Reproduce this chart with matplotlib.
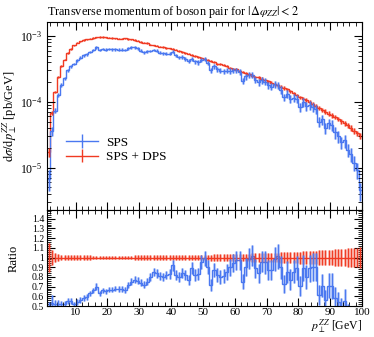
import numpy as np
import matplotlib
matplotlib.use("Agg")
import matplotlib.pyplot as plt
from matplotlib.ticker import MultipleLocator, FixedLocator, LogLocator, NullFormatter, FixedFormatter

plt.rcParams['font.family'] = ['Liberation Serif', 'DejaVu Serif']
plt.rcParams['mathtext.fontset'] = 'stix'

# bin edges: 1 GeV bins from 1 to 100
bin_lo = list(range(1, 100))

sps_dps = [1.70e-5, 6.76e-5, 1.41e-4, 2.40e-4, 3.47e-4, 4.37e-4, 5.50e-4, 6.31e-4, 7.24e-4, 7.94e-4,
           8.32e-4, 8.71e-4, 8.91e-4, 9.12e-4, 9.33e-4, 9.55e-4, 9.66e-4, 9.66e-4, 9.55e-4, 9.44e-4,
           9.33e-4, 9.23e-4, 9.12e-4, 9.12e-4, 9.15e-4, 9.0e-4, 8.9e-4, 8.7e-4, 8.5e-4, 8.1e-4,
           7.9e-4, 7.8e-4, 7.4e-4, 7.2e-4, 7.1e-4, 6.9e-4, 6.8e-4, 6.6e-4, 6.5e-4, 6.3e-4,
           6.2e-4, 5.9e-4, 5.75e-4, 5.5e-4, 5.4e-4, 5.1e-4, 5.0e-4, 4.8e-4, 4.6e-4, 4.5e-4,
           4.3e-4, 4.2e-4, 4.0e-4, 3.8e-4, 3.7e-4, 3.6e-4, 3.5e-4, 3.3e-4, 3.2e-4, 3.1e-4,
           2.95e-4, 2.8e-4, 2.7e-4, 2.6e-4, 2.5e-4, 2.4e-4, 2.35e-4, 2.24e-4, 2.14e-4, 2.04e-4,
           1.95e-4, 1.86e-4, 1.78e-4, 1.70e-4, 1.62e-4, 1.55e-4, 1.45e-4, 1.35e-4, 1.26e-4, 1.17e-4,
           1.12e-4, 1.07e-4, 1.00e-4, 9.3e-5, 8.7e-5, 8.1e-5, 7.6e-5, 7.1e-5, 6.6e-5, 6.2e-5,
           5.9e-5, 5.5e-5, 5.1e-5, 4.7e-5, 4.4e-5, 4.0e-5, 3.6e-5, 3.3e-5, 3.0e-5]

sps = [6.8e-6, 3.58e-5, 7.33e-5, 1.25e-4, 1.80e-4, 2.27e-4, 3.03e-4, 3.47e-4, 3.76e-4, 4.29e-4,
       4.66e-4, 5.05e-4, 5.26e-4, 5.75e-4, 6.16e-4, 6.69e-4, 6.09e-4, 6.38e-4, 6.21e-4, 6.32e-4,
       6.25e-4, 6.28e-4, 6.20e-4, 6.20e-4, 6.11e-4, 6.48e-4, 6.68e-4, 6.70e-4, 6.46e-4, 5.99e-4,
       5.69e-4, 5.85e-4, 5.92e-4, 6.12e-4, 5.96e-4, 5.59e-4, 5.44e-4, 5.41e-4, 5.40e-4, 5.80e-4,
       5.08e-4, 4.72e-4, 4.83e-4, 4.51e-4, 4.16e-4, 4.54e-4, 4.10e-4, 3.98e-4, 4.37e-4, 4.46e-4,
       3.87e-4, 3.02e-4, 3.48e-4, 3.12e-4, 2.96e-4, 2.92e-4, 2.98e-4, 2.97e-4, 3.01e-4, 3.01e-4,
       2.86e-4, 2.10e-4, 2.43e-4, 2.57e-4, 2.55e-4, 2.14e-4, 1.97e-4, 2.14e-4, 2.03e-4, 1.77e-4,
       1.70e-4, 1.84e-4, 1.80e-4, 1.53e-4, 1.18e-4, 1.32e-4, 1.12e-4, 1.15e-4, 1.12e-4, 8.3e-5,
       9.97e-5, 8.56e-5, 8.9e-5, 8.37e-5, 7.83e-5, 4.94e-5, 5.40e-5, 3.98e-5, 4.69e-5, 4.40e-5,
       3.42e-5, 2.97e-5, 2.45e-5, 2.59e-5, 1.85e-5, 1.60e-5, 1.19e-5, 9.2e-6, 4.5e-6]

# relative uncertainties
sps_dps_relerr = [0.15, 0.08, 0.05, 0.035, 0.03, 0.028, 0.026, 0.025, 0.024, 0.023,
                  0.022, 0.022, 0.021, 0.021, 0.02, 0.02, 0.02, 0.02, 0.02, 0.02,
                  0.02, 0.02, 0.02, 0.02, 0.02, 0.02, 0.02, 0.021, 0.021, 0.021,
                  0.021, 0.022, 0.022, 0.022, 0.023, 0.023, 0.023, 0.024, 0.024, 0.025,
                  0.025, 0.025, 0.026, 0.026, 0.027, 0.027, 0.028, 0.028, 0.029, 0.03,
                  0.03, 0.031, 0.032, 0.032, 0.033, 0.034, 0.035, 0.035, 0.036, 0.037,
                  0.038, 0.039, 0.04, 0.041, 0.042, 0.043, 0.044, 0.045, 0.046, 0.047,
                  0.048, 0.05, 0.051, 0.052, 0.054, 0.055, 0.057, 0.058, 0.06, 0.062,
                  0.063, 0.065, 0.067, 0.069, 0.071, 0.073, 0.075, 0.077, 0.079, 0.081,
                  0.083, 0.086, 0.088, 0.09, 0.093, 0.095, 0.098, 0.1, 0.105]

sps_relerr = [0.35, 0.15, 0.09, 0.07, 0.06, 0.06, 0.055, 0.055, 0.05, 0.05,
              0.05, 0.05, 0.05, 0.045, 0.045, 0.045, 0.045, 0.045, 0.045, 0.045,
              0.045, 0.045, 0.045, 0.045, 0.045, 0.045, 0.045, 0.045, 0.05, 0.05,
              0.05, 0.05, 0.05, 0.05, 0.055, 0.055, 0.055, 0.055, 0.06, 0.06,
              0.06, 0.065, 0.065, 0.065, 0.07, 0.07, 0.07, 0.075, 0.075, 0.08,
              0.08, 0.085, 0.085, 0.09, 0.09, 0.09, 0.095, 0.095, 0.1, 0.1,
              0.1, 0.105, 0.105, 0.11, 0.11, 0.11, 0.115, 0.115, 0.12, 0.12,
              0.12, 0.125, 0.125, 0.13, 0.13, 0.135, 0.135, 0.14, 0.14, 0.145,
              0.15, 0.15, 0.155, 0.16, 0.16, 0.17, 0.17, 0.18, 0.18, 0.19,
              0.2, 0.2, 0.21, 0.22, 0.23, 0.24, 0.25, 0.27, 0.3]

labels = ["SPS", "SPS + DPS"]
colors = ["#4a78f0", "#f03a22"]

edges = np.array(bin_lo + [bin_lo[-1] + 1], dtype=float)
centers = 0.5 * (edges[:-1] + edges[1:])
sps = np.array(sps)
sps_dps = np.array(sps_dps)
sps_err = sps * np.array(sps_relerr)
sps_dps_err = sps_dps * np.array(sps_dps_relerr)

fig = plt.figure(figsize=(3.74, 3.37), dpi=100)
ax = fig.add_axes([47/374, 1-210/337, 315/374, 188/337])
axr = fig.add_axes([47/374, 1-306/337, 315/374, 96/337], sharex=ax)

def draw(a, vals, errs, color):
    a.stairs(vals, edges, color=color, lw=1.0, baseline=None)
    a.errorbar(centers, vals, yerr=errs, fmt='none', ecolor=color, elinewidth=2.2, alpha=0.4)
    a.errorbar(centers, vals, yerr=errs, fmt='none', ecolor=color, elinewidth=0.7)

draw(ax, sps_dps, sps_dps_err, colors[1])
draw(ax, sps, sps_err, colors[0])
h1 = ax.errorbar([np.nan], [np.nan], yerr=[0.1], color=colors[0], lw=1.0, elinewidth=1.0)
h2 = ax.errorbar([np.nan], [np.nan], yerr=[0.1], color=colors[1], lw=1.0, elinewidth=1.0)

ax.set_yscale('log')
ax.set_xlim(1, 100)
ax.set_ylim(10**-5.644, 10**-2.788)
ax.yaxis.set_major_locator(FixedLocator([1e-5, 1e-4, 1e-3]))
ax.yaxis.set_minor_locator(LogLocator(base=10, subs=np.arange(2, 10)))
ax.yaxis.set_minor_formatter(NullFormatter())
ax.set_ylabel(r'$\mathrm{d}\sigma/\mathrm{d}p_\perp^{ZZ}$ [pb/GeV]', fontsize=9)
ax.set_title(r'Transverse momentum of boson pair for $|\Delta\varphi_{ZZ}| < 2$',
             fontsize=8.8, loc='left', pad=5)
leg = ax.legend([h1, h2], labels, loc='upper left', bbox_to_anchor=(0.045, 0.42),
                frameon=False, fontsize=9.5, handlelength=2.4, borderaxespad=0,
                labelspacing=0.2, handletextpad=0.6)

# ratio
rat_sps = sps / sps_dps
rat_sps_err = sps_err / sps_dps
rat_ref = sps_dps / sps_dps
rat_ref_err = sps_dps_err / sps_dps
draw(axr, rat_ref, rat_ref_err, colors[1])
draw(axr, rat_sps, rat_sps_err, colors[0])
axr.set_ylim(0.5, 1.49)
axr.yaxis.set_major_locator(FixedLocator([0.5, 0.6, 0.7, 0.8, 0.9, 1.0, 1.1, 1.2, 1.3, 1.4]))
axr.yaxis.set_major_formatter(FixedFormatter(['0.5', '0.6', '0.7', '0.8', '0.9', '1', '1.1', '1.2', '1.3', '1.4']))
axr.yaxis.set_minor_locator(MultipleLocator(0.02))
axr.set_ylabel('Ratio', fontsize=9)
axr.set_xlabel(r'$p_\perp^{ZZ}$ [GeV]', fontsize=8.5, loc='right', labelpad=0.5)
axr.xaxis.set_major_locator(MultipleLocator(10))
axr.xaxis.set_minor_locator(MultipleLocator(2))

for a in (ax, axr):
    a.tick_params(which='both', direction='in', top=True, right=True, labelsize=8.5)
    a.tick_params(which='major', length=6, width=0.8)
    a.tick_params(which='minor', length=3, width=0.6)
    for s in a.spines.values():
        s.set_linewidth(0.8)
axr.tick_params(axis='y', which='major', labelsize=7, pad=2)
ax.tick_params(labelbottom=False)
axr.tick_params(axis='x', labelsize=8, pad=1.5)
axr.set_xlim(1, 100)
axr.set_xticks([10, 20, 30, 40, 50, 60, 70, 80, 90, 100])
axr.set_xticklabels(['10', '20', '30', '40', '50', '60', '70', '80', '90', '100'])
ax.yaxis.set_label_coords(-0.088, 0.5)
axr.yaxis.set_label_coords(-0.088, 0.5)

fig.savefig('out.png', dpi=100)
